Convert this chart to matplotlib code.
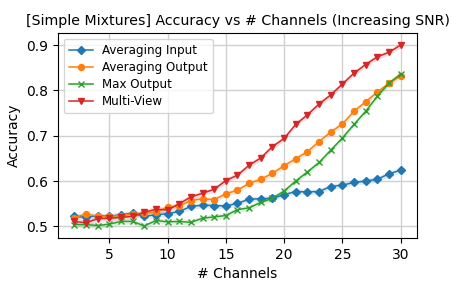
import numpy as np
import matplotlib
matplotlib.use("Agg")
import matplotlib.pyplot as plt

# Anzahl Kanäle und Genauigkeit je Methode
channels = list(range(2, 31))

avg_input = [0.522, 0.520, 0.524, 0.522, 0.526, 0.529, 0.522, 0.526, 0.528, 0.533,
             0.544, 0.547, 0.546, 0.545, 0.551, 0.560, 0.561, 0.562, 0.570, 0.577,
             0.576, 0.577, 0.588, 0.591, 0.597, 0.600, 0.604, 0.616, 0.624]
avg_output = [0.519, 0.528, 0.522, 0.522, 0.524, 0.528, 0.529, 0.531, 0.543, 0.545,
              0.557, 0.561, 0.559, 0.572, 0.580, 0.595, 0.604, 0.617, 0.634, 0.649,
              0.665, 0.687, 0.708, 0.726, 0.754, 0.775, 0.796, 0.816, 0.832]
max_output = [0.504, 0.504, 0.502, 0.505, 0.511, 0.511, 0.501, 0.513, 0.510, 0.511,
              0.509, 0.518, 0.521, 0.524, 0.537, 0.541, 0.553, 0.562, 0.578, 0.600,
              0.620, 0.641, 0.668, 0.695, 0.725, 0.754, 0.787, 0.816, 0.836]
multi_view = [0.511, 0.508, 0.517, 0.518, 0.520, 0.522, 0.531, 0.538, 0.536, 0.550,
              0.565, 0.573, 0.582, 0.601, 0.613, 0.635, 0.651, 0.676, 0.694, 0.725,
              0.746, 0.770, 0.790, 0.814, 0.838, 0.857, 0.874, 0.884, 0.900]
spread = 0.006

series = [
    ("Averaging Input", avg_input, "tab:blue", "D"),
    ("Averaging Output", avg_output, "tab:orange", "o"),
    ("Max Output", max_output, "tab:green", "x"),
    ("Multi-View", multi_view, "tab:red", "v"),
]

fig = plt.figure(figsize=(4.63, 2.83), dpi=100)
ax = fig.add_axes([0.1253, 0.159, 0.7753, 0.7244])

for name, vals, col, mk in series:
    y = np.array(vals)
    ax.plot(channels, y, color=col, marker=mk, markersize=4.3, linewidth=1.1, label=name)
    ax.fill_between(channels, y - spread, y + spread, color=col, alpha=0.15, linewidth=0)

ax.set_xticks([5, 10, 15, 20, 25, 30])
ax.set_yticks([0.5, 0.6, 0.7, 0.8, 0.9])
ax.grid(True, color="#d0d0d0", linewidth=1)
ax.set_axisbelow(True)
ax.tick_params(labelsize=10)
ax.set_xlabel("# Channels", fontsize=10)
ax.set_ylabel("Accuracy", fontsize=10)
ax.set_title("[Simple Mixtures] Accuracy vs # Channels (Increasing SNR)", fontsize=10.2)
ax.legend(loc="upper left", fontsize=8.6, labelspacing=0.35, handlelength=2.0)

fig.savefig("out.png", dpi=100)
